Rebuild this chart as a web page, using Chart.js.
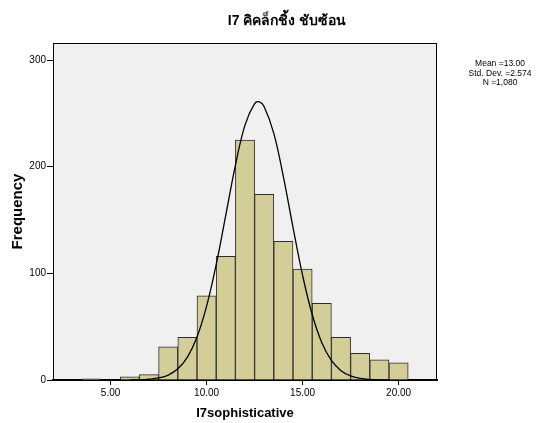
<!DOCTYPE html>
<html>
<head>
<meta charset="utf-8">
<script src="https://cdn.jsdelivr.net/npm/chart.js@4"></script>
<style>
  html, body { margin: 0; padding: 0; background: #fff; }
  #wrap { width: 546px; height: 423px; }
</style>
</head>
<body>
<div id="wrap"><canvas id="histChart" width="546" height="423"></canvas></div>
<script>
// histogram bins (centre of each 1-wide bin) and their counts
const binCenters = [4, 5, 6, 7, 8, 9, 10, 11, 12, 13, 14, 15, 16, 17, 18, 19, 20];
const binCounts = [1, 0, 3, 5, 31, 40, 79, 116, 225, 174, 130, 104, 72, 40, 25, 19, 16];

// normal curve
const curveX = [6, 6.5, 7, 7.5, 8, 8.5, 9, 9.5, 10, 10.5, 11, 11.5, 12, 12.5, 12.75, 13, 13.5, 14, 14.5, 15, 15.5, 16, 16.5, 17, 17.5, 18, 18.5, 19, 19.5];
const curveY = [0, 0.1, 0.7, 1.9, 4.6, 10.5, 21.5, 40.4, 69.3, 108.3, 154.6, 201.2, 239.0, 259.1, 260.7, 256.2, 231.3, 190.4, 143.1, 98.1, 61.4, 35.0, 18.3, 8.7, 3.8, 1.5, 0.5, 0.2, 0];

const xTicks = [5, 10, 15, 20];
const yTicks = [0, 100, 200, 300];

const TITLE = 'I7 คิคล็กชิ้ง ชับซ้อน';
const STATS = ['Mean =13.00', 'Std. Dev. =2.574', 'N =1,080'];

const FONT = "'Liberation Sans', Arial, 'DejaVu Sans', sans-serif";

const plotFrame = {
  id: 'plotFrame',
  beforeDraw(chart) {
    const { ctx, chartArea: a } = chart;
    ctx.save();
    ctx.fillStyle = '#f0f0f0';
    ctx.fillRect(a.left, a.top, a.right - a.left, a.bottom - a.top);
    ctx.restore();
  },
  afterDraw(chart) {
    const { ctx, chartArea: a } = chart;
    ctx.save();
    ctx.strokeStyle = '#000';
    ctx.lineWidth = 1;
    ctx.strokeRect(a.left + 0.5, a.top + 0.5, a.right - a.left - 1, a.bottom - a.top);

    // title
    ctx.fillStyle = '#000';
    ctx.textAlign = 'center';
    ctx.textBaseline = 'middle';
    ctx.font = "bold 14px " + FONT;
    ctx.fillText(TITLE, 287, 21);

    // stats box
    ctx.font = "8.5px " + FONT;
    STATS.forEach((s, i) => ctx.fillText(s, 500, 64 + i * 9.3));
    ctx.restore();
  },
};

function initHistChart() {
  const ctx = document.getElementById('histChart');
  if (!ctx) return;

  new Chart(ctx, {
    data: {
      datasets: [
        {
          type: 'line',
          data: curveX.map((x, i) => ({ x, y: curveY[i] })),
          borderColor: '#000',
          borderWidth: 1.3,
          pointRadius: 0,
          tension: 0.4,
          fill: false,
        },
        {
          type: 'bar',
          data: binCenters.map((x, i) => ({ x, y: binCounts[i] })),
          backgroundColor: '#d3ce98',
          borderColor: '#2e2e2e',
          borderWidth: 1,
          borderSkipped: 'bottom',
          barPercentage: 1,
          categoryPercentage: 1,
        },
      ],
    },
    options: {
      responsive: false,
      animation: false,
      devicePixelRatio: 1,
      layout: { padding: { top: 43, right: 109, left: 0, bottom: 0 } },
      plugins: {
        legend: { display: false },
        tooltip: { enabled: false },
      },
      scales: {
        x: {
          type: 'linear',
          min: 2,
          max: 22,
          offset: false,
          afterFit: (s) => { s.height = 43; },
          afterBuildTicks: (s) => { s.ticks = xTicks.map((v) => ({ value: v })); },
          grid: { offset: false, drawOnChartArea: false, drawTicks: true, tickLength: 5, tickColor: '#000' },
          border: { display: true, color: '#000', width: 2 },
          ticks: {
            color: '#000',
            padding: 2,
            maxRotation: 0,
            font: { family: FONT, size: 10 },
            callback: (v) => Number(v).toFixed(2),
          },
          title: {
            display: true,
            text: 'I7sophisticative',
            color: '#000',
            font: { family: FONT, size: 13, weight: 'bold' },
            padding: { top: 2, bottom: 2 },
          },
        },
        y: {
          min: 0,
          max: 316,
          afterFit: (s) => { s.width = 53; },
          afterBuildTicks: (s) => { s.ticks = yTicks.map((v) => ({ value: v })); },
          grid: { drawOnChartArea: false, drawTicks: true, tickLength: 6, tickColor: '#000' },
          border: { display: true, color: '#000', width: 1 },
          ticks: {
            color: '#000',
            padding: 1,
            font: { family: FONT, size: 10 },
          },
          title: {
            display: true,
            text: 'Frequency',
            color: '#000',
            font: { family: FONT, size: 15, weight: 'bold' },
            padding: { top: 9, bottom: 9 },
          },
        },
      },
    },
    plugins: [plotFrame],
  });
}

document.addEventListener('DOMContentLoaded', initHistChart);
</script>
</body>
</html>
